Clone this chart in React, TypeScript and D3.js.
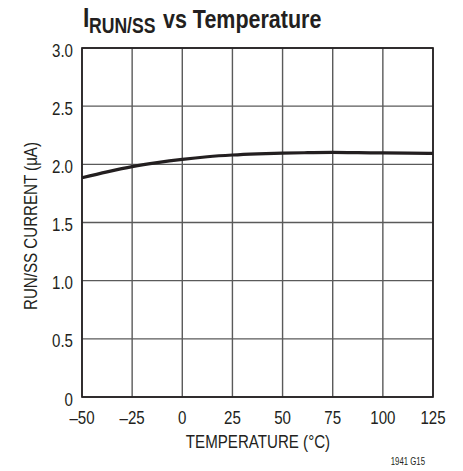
import React from "react";
import * as d3 from "d3";

const temps = [-50, -37.5, -25, -12.5, 0, 12.5, 25, 37.5, 50, 62.5, 75, 87.5, 100, 112.5, 125];
const current = [1.885, 1.935, 1.98, 2.015, 2.043, 2.065, 2.08, 2.09, 2.097, 2.1, 2.102, 2.1, 2.098, 2.096, 2.094];
const xTicks = [-50, -25, 0, 25, 50, 75, 100, 125];
const yTicks = [0, 0.5, 1.0, 1.5, 2.0, 2.5, 3.0];

const FONT = "'Liberation Sans', Arial, sans-serif";
const INK = "#231f20";

function T(props: {
  x: number; y: number; sx?: number; size: number; anchor?: string; weight?: string; rotate?: number; children: React.ReactNode;
}) {
  const { x, y, sx = 0.84, size, anchor = "start", weight = "normal", rotate = 0, children } = props;
  return (
    <text
      transform={`translate(${x},${y}) rotate(${rotate}) scale(${sx},1)`}
      fontSize={size}
      fontWeight={weight}
      textAnchor={anchor}
      fill={INK}
      fontFamily={FONT}
    >
      {children}
    </text>
  );
}

export default function App() {
  const W = 463, H = 471;
  const x = d3.scaleLinear().domain([-50, 125]).range([82, 433]);
  const y = d3.scaleLinear().domain([0, 3]).range([397, 48]);
  const line = d3.line<number>().x((_, i) => x(temps[i])).y((d) => y(d)).curve(d3.curveMonotoneX);
  const fmtX = (v: number) => (v < 0 ? "\u2013" + Math.abs(v) : String(v));
  const fmtY = (v: number) => (v === 0 ? "0" : v.toFixed(1));
  return (
    <svg width={W} height={H} style={{ position: "absolute", left: 0, top: 0, background: "#fff" }} fontFamily={FONT}>
      <T x={83} y={27} size={27} weight="bold" sx={0.85}>I</T>
      <T x={89} y={33} size={22} weight="bold" sx={0.8}>RUN/SS</T>
      <T x={163} y={28} size={25} weight="bold" sx={0.86}>vs Temperature</T>
      {xTicks.map((t) => (
        <line key={"gx" + t} x1={x(t)} x2={x(t)} y1={y(3)} y2={y(0)} stroke="#5a5a5a" strokeWidth={1.4} />
      ))}
      {yTicks.map((t) => (
        <line key={"gy" + t} x1={x(-50)} x2={x(125)} y1={y(t)} y2={y(t)} stroke="#5a5a5a" strokeWidth={1.4} />
      ))}
      <rect x={x(-50)} y={y(3)} width={x(125) - x(-50)} height={y(0) - y(3)} fill="none" stroke={INK} strokeWidth={1.7} />
      <path d={line(current) || ""} fill="none" stroke={INK} strokeWidth={3.2} />
      {yTicks.map((t) => (
        <T key={"ty" + t} x={73} y={y(t) + 8.5} size={18} anchor="end">
          {fmtY(t)}
        </T>
      ))}
      {xTicks.map((t) => (
        <T key={"tx" + t} x={x(t)} y={424} size={18} anchor="middle">
          {fmtX(t)}
        </T>
      ))}
      <T x={258} y={448} size={18} anchor="middle">TEMPERATURE (°C)</T>
      <T x={37} y={226} size={18} anchor="middle" rotate={-90}>RUN/SS CURRENT (µA)</T>
      <T x={425} y={465} size={10} anchor="end" sx={0.78}>1941 G15</T>
    </svg>
  );
}
